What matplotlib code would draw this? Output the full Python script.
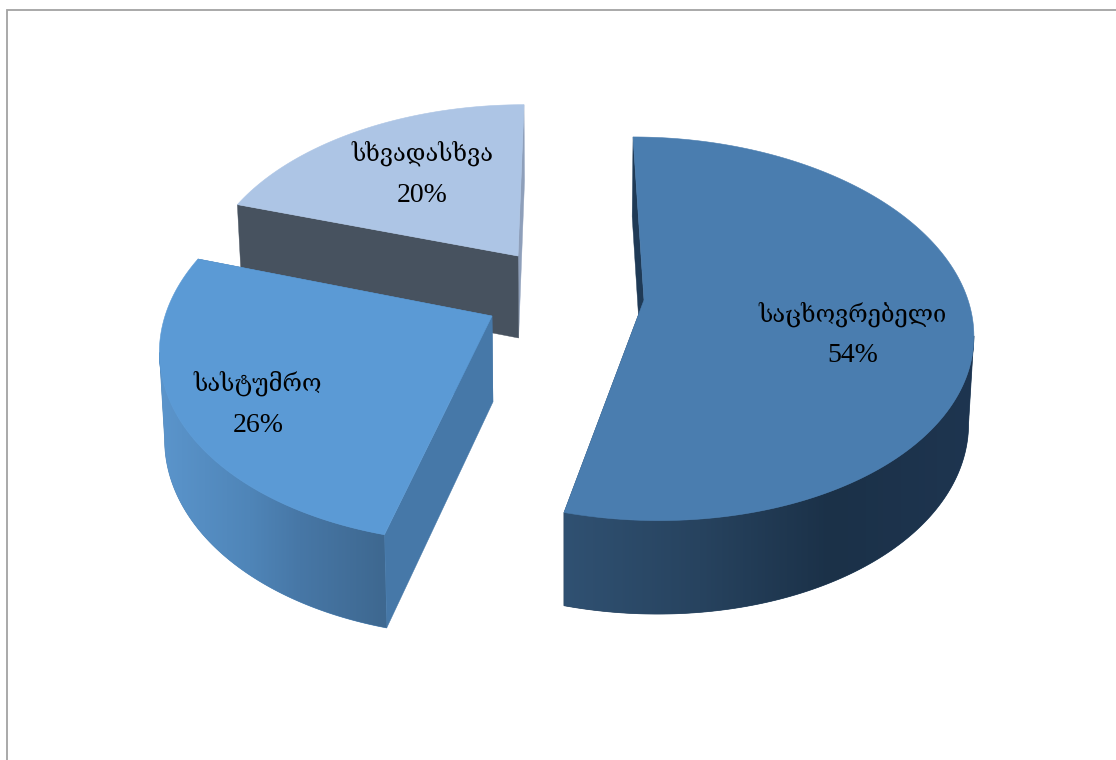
import numpy as np
import matplotlib
matplotlib.use("Agg")
import matplotlib.pyplot as plt
from matplotlib.patches import Polygon
from matplotlib.colors import to_rgb

# --- data ---
categories = ["საცხოვრებელი", "სასტუმრო", "სხვადასხვა"]
values = [54, 26, 20]
percent_labels = ["54%", "26%", "20%"]

# --- per-slice view geometry (apex x, apex y, rx, ry, shear x, depth) ---
views = [
    (644, 300, 324, 187.5, -12.6, 86),
    (492, 316, 327, 193.0, 11.0, 86),
    (518, 256, 311, 174.0, 6.9, 82),
]
top_colors = ["#4A7DAF", "#5B9AD5", "#ADC5E5"]
first_face = ["#1F3A56", "#4678A8", "#47525F"]
last_face = ["#1F3A56", "#4678A8", "#8E9FBA"]
wall_stops = [
    ([564, 700, 830, 973], ["#305172", "#27435F", "#1B3148", "#1E3550"]),
    ([160, 250, 300, 384], ["#5B95CC", "#4F85B8", "#4777A6", "#3E6890"]),
    ([230, 520], ["#47525F", "#47525F"]),
]
label_xy = [(853, 314, 356), (258, 383, 426), (422, 153, 195)]
draw_order = [2, 0, 1]

PERSP = 0.15
PERSP_DEPTH = 0.08
VANISH_X = 565
CONVERGE = 0.013

fig = plt.figure(figsize=(11.16, 7.6), dpi=100, facecolor="white")
ax = fig.add_axes([0, 0, 1, 1])
ax.axis("off")

# frame of the original chart area
ax.plot([6.5, 6.5, 1116], [760, 10, 10], color="#A3A3A3", lw=1.3, solid_joinstyle="miter", zorder=0)


def top_point(view, theta):
    ax0, ay0, rx, ry, sx, _ = view
    u, v = np.sin(theta), np.cos(theta)
    w = 1 + PERSP * v
    return ax0 + (rx * u + sx * v) / w, ay0 - ry * v / w


def bottom_point(view, x, y, v):
    depth = view[5]
    return x + CONVERGE * (VANISH_X - x), y + depth / (1 + PERSP_DEPTH * v)


fractions = np.array(values, dtype=float) / sum(values)
edges = np.concatenate([[0], np.cumsum(fractions)]) * 2 * np.pi

for z, i in enumerate(draw_order):
    view = views[i]
    a0, a1 = edges[i], edges[i + 1]
    base = 10 * (z + 1)
    apex = (view[0], view[1])
    apex_b = bottom_point(view, view[0], view[1], 0.0)

    # flat cut faces
    for ang, col, dz in ((a1, last_face[i], 0), (a0, first_face[i], 1)):
        x, y = top_point(view, ang)
        bx, by = bottom_point(view, x, y, np.cos(ang))
        ax.add_patch(Polygon([apex, (x, y), (bx, by), apex_b], closed=True,
                             facecolor=col, edgecolor=col, lw=0.3, zorder=base + dz))

    # curved outer wall, only where it faces the viewer, with a left-right gradient
    lo, hi = max(a0, np.pi / 2), min(a1, 3 * np.pi / 2)
    if hi > lo:
        ts = np.linspace(lo, hi, 400)
        rim_x = np.array([top_point(view, t)[0] for t in ts])
        # keep the part between the horizontal extremes, so the outline does not fold over
        ts = ts[int(np.argmax(rim_x)): int(np.argmin(rim_x)) + 1]
        upper = [top_point(view, t) for t in ts]
        lower = [bottom_point(view, p[0], p[1], np.cos(t)) for p, t in zip(upper, ts)]
        outline = np.array(upper + lower[::-1])
        xmin, ymin = outline.min(axis=0)
        xmax, ymax = outline.max(axis=0)
        xs = np.linspace(xmin, xmax, 512)
        stops, cols = wall_stops[i]
        rgb = np.array([to_rgb(c) for c in cols])
        ramp = np.stack([np.interp(xs, stops, rgb[:, k]) for k in range(3)], axis=-1)[None, :, :]
        clip = Polygon(outline, closed=True, facecolor=cols[1], edgecolor=cols[1],
                       lw=0.5, zorder=base + 2)
        ax.add_patch(clip)
        im = ax.imshow(ramp, extent=[xmin, xmax, ymax, ymin], aspect="auto",
                       interpolation="bilinear", zorder=base + 2.5)
        im.set_clip_path(clip)

    # top surface
    ts = np.linspace(a0, a1, 200)
    rim = [top_point(view, t) for t in ts]
    ax.add_patch(Polygon([apex] + rim, closed=True, facecolor=top_colors[i],
                         edgecolor=top_colors[i], lw=0.4, zorder=base + 3))

for name, pct, (x, y1, y2) in zip(categories, percent_labels, label_xy):
    ax.text(x, y1, name, ha="center", va="center", fontsize=17,
            family=["DejaVu Serif", "DejaVu Sans"], color="black", zorder=100)
    ax.text(x, y2, pct, ha="center", va="center", fontsize=20,
            family="Liberation Serif", color="black", zorder=100)

ax.set_xlim(0, 1116)
ax.set_ylim(760, 0)
fig.savefig("out.png", dpi=100, facecolor="white")
